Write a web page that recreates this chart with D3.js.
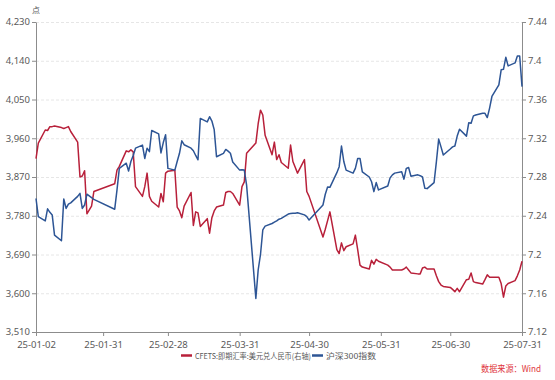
<!DOCTYPE html>
<html><head><meta charset="utf-8">
<script src="https://cdn.jsdelivr.net/npm/d3@7"></script>
<style>body{margin:0;background:#fff}svg{display:block;font-family:"Noto Sans CJK SC","Noto Sans",sans-serif}</style>
</head><body><svg id="c" width="555" height="380"></svg>
<script>
// ---- data ----
const csiDates = ["2025-01-02","2025-01-03","2025-01-06","2025-01-07","2025-01-08","2025-01-09","2025-01-10","2025-01-13","2025-01-14","2025-01-15","2025-01-16","2025-01-17","2025-01-20","2025-01-21","2025-01-22","2025-01-23","2025-01-24","2025-01-27","2025-02-05","2025-02-06","2025-02-07","2025-02-10","2025-02-11","2025-02-12","2025-02-13","2025-02-14","2025-02-17","2025-02-18","2025-02-19","2025-02-20","2025-02-21","2025-02-24","2025-02-25","2025-02-26","2025-02-27","2025-02-28","2025-03-03","2025-03-04","2025-03-05","2025-03-06","2025-03-07","2025-03-10","2025-03-11","2025-03-12","2025-03-13","2025-03-14","2025-03-17","2025-03-18","2025-03-19","2025-03-20","2025-03-21","2025-03-24","2025-03-25","2025-03-26","2025-03-27","2025-03-28","2025-03-31","2025-04-01","2025-04-02","2025-04-03","2025-04-07","2025-04-08","2025-04-09","2025-04-10","2025-04-11","2025-04-14","2025-04-15","2025-04-16","2025-04-17","2025-04-18","2025-04-21","2025-04-22","2025-04-23","2025-04-24","2025-04-25","2025-04-28","2025-04-29","2025-04-30","2025-05-06","2025-05-07","2025-05-08","2025-05-09","2025-05-12","2025-05-13","2025-05-14","2025-05-15","2025-05-16","2025-05-19","2025-05-20","2025-05-21","2025-05-22","2025-05-23","2025-05-26","2025-05-27","2025-05-28","2025-05-29","2025-05-30","2025-06-03","2025-06-04","2025-06-05","2025-06-06","2025-06-09","2025-06-10","2025-06-11","2025-06-12","2025-06-13","2025-06-16","2025-06-17","2025-06-18","2025-06-19","2025-06-20","2025-06-23","2025-06-24","2025-06-25","2025-06-26","2025-06-27","2025-06-30","2025-07-01","2025-07-02","2025-07-03","2025-07-04","2025-07-07","2025-07-08","2025-07-09","2025-07-10","2025-07-11","2025-07-14","2025-07-15","2025-07-16","2025-07-17","2025-07-18","2025-07-21","2025-07-22","2025-07-23","2025-07-24","2025-07-25","2025-07-28","2025-07-29","2025-07-30","2025-07-31"];
const csiValues = [3820,3778,3768,3796,3788,3782,3735,3722,3819,3797,3807,3810,3825,3832,3797,3805,3830,3818,3795,3840,3890,3902,3884,3906,3920,3937,3944,3913,3937,3929,3978,3970,3926,3950,3968,3890,3886,3906,3925,3954,3945,3937,3931,3920,3910,4006,3998,4010,4000,3980,3917,3925,3934,3930,3925,3905,3886,3887,3886,3851,3588,3654,3690,3747,3756,3762,3765,3768,3772,3774,3784,3785,3786,3786,3787,3782,3778,3770,3805,3830,3847,3846,3880,3894,3942,3906,3886,3879,3890,3913,3913,3882,3870,3859,3836,3857,3840,3849,3868,3875,3879,3882,3865,3890,3892,3872,3875,3873,3870,3844,3843,3857,3905,3958,3940,3921,3935,3940,3942,3965,3981,3965,3996,3995,4012,4014,4018,4018,4008,4030,4057,4084,4119,4120,4148,4128,4135,4151,4151,4080];

const fxDates = ["2025-01-02","2025-01-03","2025-01-06","2025-01-07","2025-01-08","2025-01-09","2025-01-10","2025-01-13","2025-01-14","2025-01-15","2025-01-16","2025-01-17","2025-01-20","2025-01-21","2025-01-22","2025-01-23","2025-01-24","2025-01-26","2025-01-27","2025-02-05","2025-02-06","2025-02-07","2025-02-10","2025-02-11","2025-02-12","2025-02-13","2025-02-14","2025-02-17","2025-02-18","2025-02-19","2025-02-20","2025-02-21","2025-02-24","2025-02-25","2025-02-26","2025-02-27","2025-02-28","2025-03-03","2025-03-04","2025-03-05","2025-03-06","2025-03-07","2025-03-10","2025-03-11","2025-03-12","2025-03-13","2025-03-14","2025-03-17","2025-03-18","2025-03-19","2025-03-20","2025-03-21","2025-03-24","2025-03-25","2025-03-26","2025-03-27","2025-03-28","2025-03-31","2025-04-01","2025-04-02","2025-04-03","2025-04-07","2025-04-08","2025-04-09","2025-04-10","2025-04-11","2025-04-14","2025-04-15","2025-04-16","2025-04-17","2025-04-18","2025-04-21","2025-04-22","2025-04-23","2025-04-24","2025-04-25","2025-04-28","2025-04-29","2025-04-30","2025-05-06","2025-05-07","2025-05-08","2025-05-09","2025-05-12","2025-05-13","2025-05-14","2025-05-15","2025-05-16","2025-05-19","2025-05-20","2025-05-21","2025-05-22","2025-05-23","2025-05-26","2025-05-27","2025-05-28","2025-05-29","2025-05-30","2025-06-03","2025-06-04","2025-06-05","2025-06-06","2025-06-09","2025-06-10","2025-06-11","2025-06-12","2025-06-13","2025-06-16","2025-06-17","2025-06-18","2025-06-19","2025-06-20","2025-06-23","2025-06-24","2025-06-25","2025-06-26","2025-06-27","2025-06-30","2025-07-01","2025-07-02","2025-07-03","2025-07-04","2025-07-07","2025-07-08","2025-07-09","2025-07-10","2025-07-11","2025-07-14","2025-07-15","2025-07-16","2025-07-17","2025-07-18","2025-07-21","2025-07-22","2025-07-23","2025-07-24","2025-07-25","2025-07-28","2025-07-29","2025-07-30","2025-07-31"];
const fxValues = [7.299,7.315,7.3285,7.328,7.332,7.332,7.3326,7.331,7.330,7.331,7.332,7.327,7.316,7.280,7.281,7.2865,7.242,7.250,7.265,7.273,7.287,7.291,7.307,7.306,7.308,7.306,7.270,7.260,7.270,7.284,7.260,7.255,7.249,7.263,7.2545,7.284,7.286,7.287,7.249,7.245,7.238,7.250,7.264,7.230,7.244,7.243,7.229,7.237,7.222,7.238,7.245,7.249,7.251,7.264,7.265,7.265,7.263,7.251,7.270,7.275,7.3045,7.315,7.335,7.349,7.344,7.323,7.303,7.316,7.298,7.303,7.295,7.289,7.313,7.296,7.290,7.284,7.298,7.265,7.260,7.218,7.226,7.235,7.244,7.205,7.201,7.212,7.204,7.208,7.211,7.220,7.205,7.189,7.187,7.185,7.194,7.190,7.195,7.193,7.189,7.187,7.184,7.184,7.184,7.185,7.187,7.184,7.181,7.180,7.180,7.186,7.187,7.185,7.185,7.178,7.172,7.1685,7.167,7.166,7.164,7.1616,7.165,7.1616,7.174,7.1744,7.181,7.172,7.171,7.1695,7.174,7.179,7.1765,7.1765,7.1765,7.170,7.156,7.1675,7.170,7.173,7.178,7.184,7.193];

const leftTicks = [3510,3600,3690,3780,3870,3960,4050,4140,4230];
const rightTicks = [7.12,7.16,7.2,7.24,7.28,7.32,7.36,7.4,7.44];
const xTickLabels = ["2025-01-02","2025-01-31","2025-02-28","2025-03-31","2025-04-30","2025-05-31","2025-06-30","2025-07-31"];
const seriesNames = ["CFETS:即期汇率:美元兑人民币(右轴)","沪深300指数"];
const unitLabel = "点";
const sourceLabel = "数据来源：Wind";

// ---- chart ----
const parse = d3.utcParse("%Y-%m-%d");
const fmtX = d3.utcFormat("%y-%m-%d");
const svg = d3.select("#c");
const L = 36, R = 522, T = 22, B = 332;
const x = d3.scaleUtc().domain([parse("2025-01-02"), parse("2025-07-31")]).range([L, R]);
const yL = d3.scaleLinear().domain([3510, 4230]).range([B, T]);
const yR = d3.scaleLinear().domain([7.12, 7.44]).range([B, T]);
const red = "#b8203a", blue = "#2d5595", axisCol = "#8c8c8c", textCol = "#595959";

// grid
svg.append("g").selectAll("line").data(leftTicks.slice(1)).join("line")
  .attr("x1", L).attr("x2", R).attr("y1", d => yL(d) + 0.5).attr("y2", d => yL(d) + 0.5)
  .attr("stroke", "#e6e6e6").attr("stroke-dasharray", "3,2");

function styleAxis(g, size) {
  g.select(".domain").attr("stroke", axisCol);
  g.selectAll(".tick line").attr("stroke", axisCol);
  g.selectAll(".tick text").attr("fill", textCol).style("font-size", size + "px").style("font-family", '"Noto Sans",sans-serif');
}

const gl = svg.append("g").attr("transform", `translate(${L},0)`)
  .call(d3.axisLeft(yL).tickValues(leftTicks).tickFormat(d3.format(",")).tickSize(4).tickSizeOuter(0).tickPadding(2));
styleAxis(gl, 9.5);
gl.selectAll(".tick text").attr("dy", "0.3em");
const gr = svg.append("g").attr("transform", `translate(${R},0)`)
  .call(d3.axisRight(yR).tickValues(rightTicks).tickFormat(d => String(+d.toFixed(2))).tickSize(4).tickSizeOuter(0).tickPadding(2));
styleAxis(gr, 9.5);
gr.selectAll(".tick text").attr("dy", "0.3em");
const gx = svg.append("g").attr("transform", `translate(0,${B})`)
  .call(d3.axisBottom(x).tickValues(xTickLabels.map(parse)).tickFormat(fmtX).tickSize(4).tickSizeOuter(0).tickPadding(5));
styleAxis(gx, 9.5);

svg.append("text").attr("x", L).attr("y", 13).attr("text-anchor", "middle")
  .attr("fill", textCol).style("font-size", "8px").text(unitLabel);

// lines
const fxData = fxDates.map((d, i) => ({ d: parse(d), v: fxValues[i] }));
const csiData = csiDates.map((d, i) => ({ d: parse(d), v: csiValues[i] }));
svg.append("path").datum(fxData).attr("fill", "none").attr("stroke", red).attr("stroke-width", 1.5)
  .attr("stroke-linejoin", "round")
  .attr("d", d3.line().x(p => x(p.d)).y(p => yR(p.v)));
svg.append("path").datum(csiData).attr("fill", "none").attr("stroke", blue).attr("stroke-width", 1.5)
  .attr("stroke-linejoin", "round")
  .attr("d", d3.line().x(p => x(p.d)).y(p => yL(p.v)));

// legend
const lg = svg.append("g").style("font-size", "8px");
const items = [{ name: seriesNames[0], c: red, x0: 181, w: 116 }, { name: seriesNames[1], c: blue, x0: 312, w: 50 }];
items.forEach(it => {
  lg.append("line").attr("x1", it.x0).attr("x2", it.x0 + 11).attr("y1", 355.5).attr("y2", 355.5)
    .attr("stroke", it.c).attr("stroke-width", 2.5);
  lg.append("text").attr("x", it.x0 + 14).attr("y", 358.5).attr("fill", textCol)
    .attr("textLength", it.w).attr("lengthAdjust", "spacingAndGlyphs").text(it.name);
});

svg.append("text").attr("x", 541).attr("y", 372).attr("text-anchor", "end")
  .attr("fill", "#e0353b").style("font-size", "9px")
  .attr("textLength", 60).attr("lengthAdjust", "spacingAndGlyphs").text(sourceLabel);
</script></body></html>
